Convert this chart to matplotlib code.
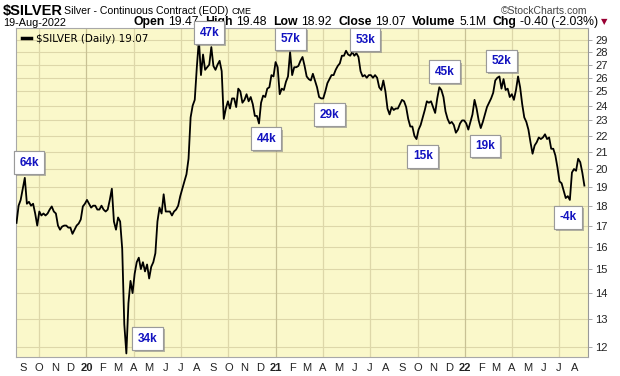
import matplotlib
matplotlib.use("Agg")
import matplotlib.pyplot as plt
import matplotlib.patheffects as pe
from matplotlib.ticker import FixedLocator, NullLocator, NullFormatter
import pandas as pd

plt.rcParams["font.family"] = ["Liberation Sans", "DejaVu Sans"]

dates = pd.date_range("2019-08-19", "2022-08-19", freq="4D")
prices = [
    17.13, 18.0, 18.3, 18.9, 19.5, 18.1, 18.2, 18.0, 18.1, 17.6,
    17.0, 17.7, 17.5, 17.6, 17.5, 17.6, 17.8, 17.96, 17.7, 17.6,
    17.0, 16.8, 16.95, 17.0, 17.0, 16.9, 16.9, 16.6, 16.8, 17.0,
    17.1, 17.3, 17.96, 18.1, 18.3, 18.1, 17.9, 18.0, 18.0, 17.8,
    17.8, 18.0, 17.8, 17.7, 17.8, 18.3, 18.9, 17.2, 16.8, 17.4,
    17.2, 15.9, 12.8, 11.77, 13.6, 14.5, 14.0, 14.8, 15.3, 15.5,
    15.0, 15.3, 14.9, 15.2, 14.6, 15.1, 15.3, 15.7, 17.2, 17.9,
    17.6, 18.6, 17.7, 17.7, 17.7, 17.5, 17.7, 17.8, 18.0, 18.5,
    18.9, 19.3, 19.7, 20.6, 23.2, 24.0, 24.4, 26.8, 29.0, 26.2,
    27.8, 26.6, 26.8, 27.0, 28.4, 26.9, 26.6, 27.0, 27.3, 26.5,
    23.1, 23.8, 24.3, 23.8, 24.5, 24.5, 23.9, 25.2, 25.0, 24.2,
    24.4, 24.8, 24.3, 24.6, 24.1, 23.3, 23.3, 22.8, 24.2, 24.7,
    24.6, 25.2, 25.3, 26.2, 26.1, 27.2, 26.8, 24.8, 25.2, 25.1,
    25.7, 26.1, 28.0, 26.2, 26.8, 26.8, 26.9, 27.3, 27.6, 26.9,
    26.1, 25.9, 25.8, 26.3, 25.8, 25.3, 24.6, 24.5, 24.5, 25.0,
    25.6, 25.9, 26.2, 26.2, 26.6, 26.9, 27.1, 27.7, 27.7, 28.1,
    27.8, 27.7, 28.0, 27.7, 27.9, 27.6, 26.5, 26.1, 26.2, 26.0,
    26.2, 26.2, 26.0, 26.2, 26.0, 25.3, 25.1, 25.8, 25.0, 23.8,
    23.4, 23.9, 23.7, 23.8, 23.8, 24.1, 24.4, 24.3, 23.9, 23.1,
    22.6, 22.6, 22.0, 21.8, 22.4, 22.7, 23.2, 23.7, 24.3, 24.2,
    24.3, 23.9, 23.5, 24.5, 25.3, 25.1, 24.6, 23.6, 23.1, 22.8,
    22.9, 22.7, 22.2, 22.4, 22.8, 23.0, 23.0, 22.8, 22.4, 22.9,
    23.4, 24.4, 23.8, 23.0, 22.5, 22.9, 23.4, 23.9, 24.2, 24.5,
    24.9, 25.8, 26.0, 26.1, 25.2, 25.9, 25.1, 25.2, 24.6, 24.8,
    24.4, 25.1, 26.1, 25.3, 24.1, 23.2, 22.9, 22.4, 21.6, 20.9,
    21.4, 21.6, 21.9, 21.8, 21.9, 22.1, 21.8, 21.9, 21.2, 21.2,
    20.8, 20.1, 19.3, 19.2, 18.8, 18.4, 18.5, 18.3, 19.8, 20.0,
    19.9, 20.6, 20.4, 19.8, 19.07,
]

# call-out boxes (net positions), anchored at a date / price
note_text = ["64k", "34k", "47k", "44k", "57k", "29k",
             "53k", "15k", "45k", "19k", "52k", "-4k"]
note_date = ["2019-09-12", "2020-04-28", "2020-08-25", "2020-12-13", "2021-01-29", "2021-04-14",
             "2021-06-22", "2021-10-11", "2021-11-22", "2022-02-08", "2022-03-12", "2022-07-18"]
note_price = [20.37, 12.28, 29.59, 21.82, 29.08, 23.38,
              29.0, 20.75, 26.45, 21.37, 27.29, 17.40]

price_ticks = list(range(12, 30))
month_starts = pd.date_range("2019-09-01", "2022-08-01", freq="MS")
quarter_starts = pd.date_range("2019-10-01", "2022-07-01", freq="QS")

fig = plt.figure(figsize=(6.2, 3.76), dpi=100)
fig.patch.set_facecolor("white")
ax = fig.add_axes([16 / 620, 19 / 376, 572 / 620, 329 / 376])
ax.set_facecolor("#FAF8CA")

# grid
for p in price_ticks:
    ax.axhline(p, color="#DDD7A9", lw=0.8, zorder=1)
for q in quarter_starts:
    ax.axvline(q, color="#C8C194" if q.month == 1 else "#DDD7A9", lw=0.9, zorder=1)

line, = ax.plot(dates, prices, color="black", lw=1.3, zorder=3)

ax.set_yscale("log")
ax.set_ylim(11.65, 30.0)
ax.set_xlim(pd.Timestamp("2019-08-18"), pd.Timestamp("2022-08-26"))

# y axis on the right
ax.yaxis.tick_right()
ax.yaxis.set_major_locator(FixedLocator(price_ticks))
ax.yaxis.set_minor_locator(NullLocator())
ax.yaxis.set_minor_formatter(NullFormatter())
ax.set_yticklabels([str(p) for p in price_ticks])
ax.tick_params(axis="y", length=3, width=0.6, color="#999999",
               labelsize=8, labelcolor="#222222", pad=2)

# month initials, bold year
ax.set_xticks(month_starts)
ax.set_xticklabels([f"{d.year % 100}" if d.month == 1 else d.strftime("%b")[0]
                    for d in month_starts])
for lab, d in zip(ax.get_xticklabels(), month_starts):
    if d.month == 1:
        lab.set_fontweight("bold")
ax.tick_params(axis="x", length=0, labelsize=8, labelcolor="#222222", pad=4)

for s in ["left", "top", "bottom"]:
    ax.spines[s].set_color("#A8A8A8")
    ax.spines[s].set_linewidth(0.8)
ax.spines["right"].set_color("#999999")
ax.spines["right"].set_linestyle((0, (1, 1)))
ax.spines["right"].set_linewidth(0.8)

leg = ax.legend([line], ["\\$SILVER (Daily) 19.07"], loc="upper left",
                frameon=False, handlelength=0.9, handletextpad=0.5,
                borderaxespad=0.15, prop={"family": "DejaVu Sans", "size": 7.5})
leg.legend_handles[0].set_linewidth(2.5)

# call-outs
for txt, d, p in zip(note_text, note_date, note_price):
    t = ax.text(pd.Timestamp(d), p, txt, ha="center", va="center",
                fontsize=8.5, fontweight="bold", color="#1212C0", zorder=6,
                bbox=dict(boxstyle="square,pad=0.45", fc="white", ec="#9A9A9A", lw=0.8))
    t.get_bbox_patch().set_path_effects(
        [pe.withSimplePatchShadow(offset=(1.5, -1.5), shadow_rgbFace="#888888", alpha=0.6),
         pe.Normal()])

# header
fig.text(3 / 620, 1 - 15 / 376, "\\$SILVER", fontsize=10.5, fontweight="bold",
         va="baseline")
fig.text(64 / 620, 1 - 14 / 376, "Silver - Continuous Contract (EOD)", fontsize=7.6,
         va="baseline")
fig.text(231 / 620, 1 - 14 / 376, "CME", fontsize=6.5, va="baseline")
fig.text(587 / 620, 1 - 14 / 376, "\u00a9StockCharts.com", fontsize=7.5, va="baseline",
         ha="right", color="#444444")
fig.text(3 / 620, 1 - 26 / 376, "19-Aug-2022", fontsize=7.8, va="baseline")

pieces = [("Open", "bold"), ("19.47", "normal"), ("High", "bold"), ("19.48", "normal"),
          ("Low", "bold"), ("18.92", "normal"), ("Close", "bold"), ("19.07", "normal"),
          ("Volume", "bold"), ("5.1M", "normal"), ("Chg", "bold"), ("-0.40 (-2.03%)", "normal")]
prev = fig.text(133 / 620, 1 - 28 / 376, pieces[0][0], fontsize=8.8,
                fontweight=pieces[0][1], va="bottom")
for txt, w in pieces[1:]:
    gap = 2.5 if w == "normal" else 4.8
    prev = ax.annotate(txt, xy=(1, 0), xycoords=prev, xytext=(gap, 0),
                       textcoords="offset points", fontsize=8.8, fontweight=w,
                       va="bottom", ha="left", annotation_clip=False)
ax.annotate("\u25bc", xy=(1, 0), xycoords=prev, xytext=(2, 1.5), textcoords="offset points",
            fontsize=6, color="#990033", va="bottom", ha="left", family="DejaVu Sans")

fig.savefig("out.png", dpi=100, facecolor="white")
